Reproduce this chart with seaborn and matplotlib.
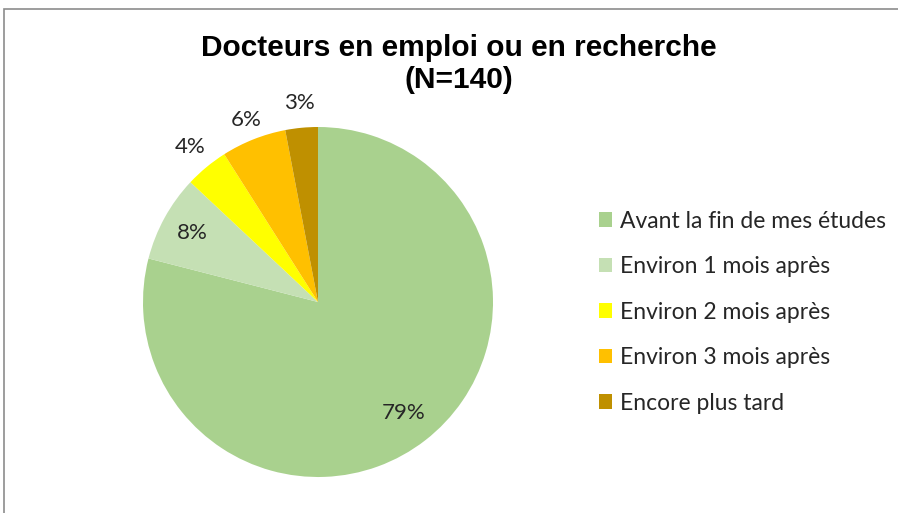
import seaborn as sns
from matplotlib import pyplot as plt
from matplotlib.patches import Rectangle
import numpy as np

# data
categories = ["Avant la fin de mes études", "Environ 1 mois après",
              "Environ 2 mois après", "Environ 3 mois après", "Encore plus tard"]
shares = [79, 8, 4, 6, 3]
colors = ["#A9D18E", "#C5E0B4", "#FFFF00", "#FFC000", "#BF9000"]
title = "Docteurs en emploi ou en recherche\n(N=140)"

sns.set_theme(style="white")
plt.rcParams['font.family'] = ['Lato', 'DejaVu Sans']

W, H = 898, 513
fig = plt.figure(figsize=(W / 100, H / 100), dpi=100)

# chart border (only top and left visible in the reference)
fig.patches.append(Rectangle((4 / W, -0.1), 1.2, 1.1 - 9 / H, transform=fig.transFigure,
                             fill=False, edgecolor="#8c8c8c", linewidth=1.2, clip_on=False))

cx, cy, r = 318, 302, 175
ax = fig.add_axes([(cx - r) / W, (H - cy - r) / H, 2 * r / W, 2 * r / H])
wedges, texts, autotexts = ax.pie(shares, colors=colors, startangle=90, counterclock=False,
                                  autopct='%d%%', pctdistance=0.8,
                                  wedgeprops=dict(linewidth=0),
                                  textprops=dict(fontsize=16, color="#262626"))
ax.set_xlim(-1, 1)
ax.set_ylim(-1, 1)
ax.set_aspect('auto')
ax.axis('off')

# label distances per slice (inside for large slices, outside for small ones)
label_dist = [0.8, 0.82, 1.15, 1.12, 1.14]
for w, t, d in zip(wedges, autotexts, label_dist):
    ang = np.deg2rad((w.theta1 + w.theta2) / 2)
    t.set_position((d * np.cos(ang), d * np.sin(ang)))

fig.text(459 / W, 1 - 64 / H, title, ha='center', va='center', fontsize=21.5,
         fontweight='bold', family=['Liberation Sans', 'DejaVu Sans'], linespacing=1.2,
         color='black')

fig.legend(wedges, categories, loc='upper left', bbox_to_anchor=(578 / W, 1 - 190 / H),
           frameon=False, fontsize=16.5, handlelength=0.6, handleheight=0.6,
           handletextpad=0.35, labelspacing=1.07, labelcolor="#262626")

fig.savefig("out.png", dpi=100)
